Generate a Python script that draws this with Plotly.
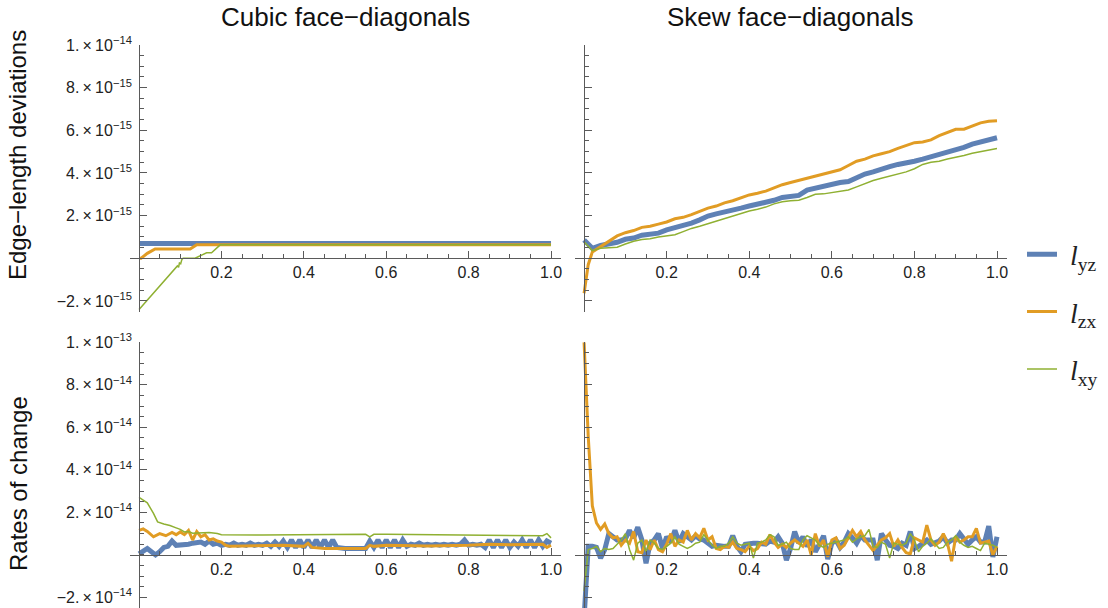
import plotly.graph_objects as go

E15 = 1e-15
E14 = 1e-14

# ---------------- data ----------------
# Top-left: Cubic face-diagonals, edge-length deviations (units 1e-15)
tl_yz_x = [0.0, 0.5, 1.0]
tl_yz = [0.69, 0.69, 0.69]
tl_zx_x = [0.0, 0.005, 0.02, 0.039, 0.124, 0.14, 1.0]
tl_zx = [0.0, 0.0, 0.23, 0.44, 0.44, 0.64, 0.64]
tl_xy_x = [0.0, 0.09, 0.093, 0.096, 0.098, 0.101, 0.104, 0.107, 0.136, 0.164, 0.176, 0.197, 1.0]
tl_xy = [-2.4, -0.45, -0.36, -0.42, -0.22, -0.26, -0.05, 0.0, 0.0, 0.26, 0.26, 0.63, 0.63]

# Top-right: Skew face-diagonals, edge-length deviations (units 1e-15)
tr_x = [round(i * 0.02, 2) for i in range(51)]
tr_yz = [0.86, 0.47, 0.6, 0.68, 0.75, 0.89, 0.95, 1.08, 1.12, 1.18, 1.33, 1.42, 1.55, 1.65, 1.8,
         1.98, 2.08, 2.15, 2.25, 2.35, 2.45, 2.52, 2.62, 2.72, 2.85, 2.92, 2.95, 3.2, 3.3, 3.35,
         3.45, 3.55, 3.6, 3.8, 3.95, 4.05, 4.2, 4.3, 4.4, 4.45, 4.55, 4.65, 4.75, 4.85, 4.95,
         5.05, 5.2, 5.35, 5.45, 5.6, 5.65]
tr_zx_x = [0.0, 0.01] + tr_x[1:]
tr_zx = [-1.64, -0.3, 0.3, 0.55, 0.82, 1.05, 1.2, 1.3, 1.45, 1.5, 1.6, 1.7, 1.85, 1.92, 2.05, 2.2,
         2.35, 2.45, 2.6, 2.7, 2.85, 2.97, 3.05, 3.15, 3.3, 3.45, 3.55, 3.65, 3.75, 3.85, 3.92,
         4.02, 4.15, 4.35, 4.55, 4.65, 4.8, 4.9, 5.0, 5.15, 5.3, 5.42, 5.45, 5.55, 5.75, 5.9,
         6.05, 6.05, 6.2, 6.35, 6.42, 6.45]
tr_xy = [0.78, 0.36, 0.47, 0.5, 0.52, 0.67, 0.8, 0.88, 0.92, 1.0, 1.05, 1.1, 1.25, 1.4, 1.5,
         1.62, 1.75, 1.88, 1.98, 2.12, 2.22, 2.3, 2.4, 2.55, 2.65, 2.7, 2.72, 2.85, 3.0, 3.02,
         3.08, 3.12, 3.2, 3.35, 3.5, 3.65, 3.75, 3.85, 3.95, 4.05, 4.2, 4.4, 4.5, 4.55, 4.65,
         4.72, 4.82, 4.92, 5.0, 5.07, 5.15]

# Bottom-left: Cubic face-diagonals, rates of change (units 1e-14)
grid01 = [round(i * 0.01, 2) for i in range(101)]
bl_yz = [0.05, 0.15, 0.3, 0.15, 0.0, 0.15, 0.35, 0.4, 0.65, 0.45,
         0.45, 0.5, 0.5, 0.55, 0.55, 0.6, 0.5, 0.65, 0.5, 0.55,
         0.45, 0.5, 0.45, 0.55, 0.45, 0.5, 0.45, 0.55, 0.45, 0.5,
         0.45, 0.55, 0.4, 0.6, 0.4, 0.65, 0.35, 0.7, 0.35, 0.7,
         0.35, 0.7, 0.35, 0.7, 0.35, 0.7, 0.35, 0.7, 0.35, 0.3,
         0.3, 0.3, 0.3, 0.3, 0.3, 0.3, 0.65, 0.35, 0.7, 0.35,
         0.7, 0.35, 0.7, 0.35, 0.7, 0.4, 0.5, 0.45, 0.55, 0.45,
         0.5, 0.45, 0.5, 0.45, 0.5, 0.45, 0.5, 0.45, 0.5, 0.7,
         0.45, 0.5, 0.45, 0.5, 0.35, 0.7, 0.35, 0.7, 0.35, 0.7,
         0.35, 0.6, 0.4, 0.7, 0.35, 0.7, 0.35, 0.7, 0.4, 0.65, 0.55]
bl_zx_x = [0.0, 0.01, 0.02, 0.035, 0.05, 0.065, 0.08, 0.09, 0.1, 0.11, 0.12, 0.13, 0.14, 0.15,
           0.16, 0.17, 0.18, 0.19, 0.2, 0.21, 0.22, 0.3, 0.35, 0.4, 0.41, 0.42, 0.45, 0.5, 0.55,
           0.56, 0.57, 0.6, 0.7, 0.8, 0.85, 0.9, 0.95, 0.98, 0.99, 1.0]
bl_zx = [1.15, 1.22, 1.1, 0.85, 1.0, 0.9, 1.05, 0.95, 1.08, 0.95, 1.15, 0.7, 1.1, 0.85, 0.95,
         0.7, 0.75, 0.65, 0.6, 0.45, 0.4, 0.45, 0.45, 0.4, 0.55, 0.35, 0.3, 0.3, 0.3, 0.45,
         0.4, 0.45, 0.42, 0.45, 0.5, 0.47, 0.5, 0.5, 0.35, 0.45]
bl_xy_x = [0.0, 0.02, 0.035, 0.045, 0.06, 0.075, 0.09, 0.1, 0.11, 0.12, 0.13, 0.15, 0.17, 0.19,
           0.2, 0.3, 0.4, 0.5, 0.55, 0.56, 0.57, 0.6, 0.7, 0.8, 0.85, 0.9, 0.98, 0.99, 1.0]
bl_xy = [2.7, 2.45, 1.95, 1.55, 1.45, 1.38, 1.27, 1.2, 1.08, 1.1, 1.02, 1.05, 1.05, 1.0, 0.95,
         0.93, 0.95, 0.97, 0.97, 0.85, 0.97, 0.97, 0.95, 0.95, 0.93, 0.9, 0.9, 1.0, 0.8]

# Bottom-right: Skew face-diagonals, rates of change (units 1e-14)
br_yz = [-3.0, 0.4, 0.4, 0.35, -0.15, 0.25, 1.0, 0.85, 0.7, 0.7,
         0.75, 1.15, 0.8, 1.3, 0.7, -0.4, 0.55, 0.7, 1.0, 0.3,
         0.85, 0.6, 1.15, 0.6, 1.0, 0.85, 0.7, 0.9, 0.75, 0.7,
         0.55, 0.4, 0.45, 0.4, 0.4, 0.4, 0.9, 0.4, 0.15, 0.5,
         0.55, 0.55, 0.55, 0.5, 0.5, 0.65, 0.6, 0.85, 0.55, -0.25,
         0.3, 1.1, 0.55, 0.85, 0.4, 0.7, 0.15, 0.5, 0.9, -0.2,
         0.55, 0.7, 0.35, 0.6, 1.0, 0.8, 0.55, 0.9, 0.7, 0.7,
         0.7, -0.25, 1.0, 0.7, 0.45, 0.4, 0.3, 0.55, 0.45, 1.1,
         0.3, 0.4, 0.55, 0.7, 0.5, 0.6, 0.65, 0.85, 0.55, 0.7,
         0.7, 1.0, 0.7, 0.5, 0.7, 0.85, 0.6, 0.6, 1.35, -0.1, 0.85]
br_zx = [10.0, 5.6, 2.3, 1.5, 1.2, 1.45, 1.0, 0.8, 0.85, 0.45,
         0.7, 0.55, 1.1, 0.15, 0.1, 0.7, 0.25, 0.7, 0.25, 0.15,
         0.5, 1.0, 0.4, 0.7, 0.6, 1.15, 0.7, 1.0, 0.8, 1.25,
         0.7, 0.85, 0.3, 0.25, 0.4, 0.35, 0.6, 0.3, 0.25, 0.15,
         0.4, 0.2, 0.3, 0.6, 0.5, 0.95, 0.6, 0.35, 0.5, 0.35,
         0.55, 0.7, 0.55, 0.4, 0.7, 0.0, 1.0, 0.4, 0.7, -0.1,
         0.7, 0.8, 0.3, 0.45, 0.8, 1.15, 0.85, 1.1, 0.7, 0.45,
         0.2, 0.45, 0.7, 0.8, 1.0, 0.4, 0.7, 0.35, 0.1, 0.05,
         0.8, 0.7, 0.6, 1.4, 0.7, 0.45, 0.6, 1.0, 0.55, -0.3,
         0.85, 0.6, 0.7, 0.85, 0.85, 1.25, 0.55, 0.6, 0.65, 0.0, 0.4]
br_xy = [-1.7, 0.25, 0.3, 0.4, 0.15, 0.3, 0.25, 0.3, 0.5, 0.7,
         1.0, 0.25, -0.25, 0.55, 0.7, 0.15, 0.7, 0.55, 0.3, 0.25,
         0.4, 0.55, 0.85, 0.5, 0.4, 0.3, 0.4, 0.55, 0.6, 0.95,
         0.7, 0.45, 0.3, 0.4, 0.4, 0.55, 0.85, 0.55, 0.45, 0.5,
         0.55, -0.15, 0.55, 0.6, 0.7, 0.95, 0.85, 0.45, 0.5, 0.6,
         0.3, 0.25, 0.25, 0.7, 0.9, 0.8, 0.7, 0.45, 0.35, 0.5,
         0.55, 0.6, 0.65, 0.7, 0.85, 0.6, 0.75, 0.85, 0.9, 1.2,
         0.4, 0.35, 0.6, 0.5, -0.15, 0.55, 0.5, 0.45, 0.55, 1.0,
         0.7, 0.15, 0.4, 0.55, 0.75, 0.55, 0.3, 0.35, 0.6, 0.7,
         0.9, 0.6, 0.45, 0.35, 0.4, 0.3, 0.2, 0.55, 0.5, 0.45, 0.35]

x_tickvals = [0.2, 0.4, 0.6, 0.8, 1.0]
x_ticktext = ["0.2", "0.4", "0.6", "0.8", "1.0"]
top_tickvals = [-2e-15, 2e-15, 4e-15, 6e-15, 8e-15, 1e-14]
top_ticktext = ["−2.\u2009×\u200910<sup>−15</sup>", "2.\u2009×\u200910<sup>−15</sup>",
                "4.\u2009×\u200910<sup>−15</sup>", "6.\u2009×\u200910<sup>−15</sup>",
                "8.\u2009×\u200910<sup>−15</sup>", "1.\u2009×\u200910<sup>−14</sup>"]
bot_tickvals = [-2e-14, 2e-14, 4e-14, 6e-14, 8e-14, 1e-13]
bot_ticktext = ["−2.\u2009×\u200910<sup>−14</sup>", "2.\u2009×\u200910<sup>−14</sup>",
                "4.\u2009×\u200910<sup>−14</sup>", "6.\u2009×\u200910<sup>−14</sup>",
                "8.\u2009×\u200910<sup>−14</sup>", "1.\u2009×\u200910<sup>−13</sup>"]

col_titles = ["Cubic face−diagonals", "Skew face−diagonals"]
row_titles = ["Edge−length deviations", "Rates of change"]
names = ["\u2009\u200a<i>l</i><sub>yz</sub>", "\u2009\u200a<i>l</i><sub>zx</sub>",
         "\u2009\u200a<i>l</i><sub>xy</sub>"]

# ---------------- styling ----------------
BLUE = "#5E81B5"
ORANGE = "#E19C24"
GREEN = "#8FB032"
WIDTHS = [5, 3, 1.5]
COLORS = [BLUE, ORANGE, GREEN]
AX = "#5a5a5a"
FONT = "Liberation Sans, Arial, sans-serif"

W, H = 1108, 608
XR = [-0.022, 1.023]
TOPR = [-2.5e-15, 1e-14]
BOTR = [-2.5e-14, 1e-13]


def px_x(v):
    return v / W


def px_y(v):
    return 1 - v / H


xdom_left = [px_x(130), px_x(560.5)]
xdom_right = [px_x(575), px_x(1006.5)]
ydom_top = [px_y(311.6), px_y(45)]
ydom_bot = [0.0, px_y(342.3)]


def frac(r, v):
    return (v - r[0]) / (r[1] - r[0])


def pos(dom, r, v):
    return dom[0] + frac(r, v) * (dom[1] - dom[0])


fig = go.Figure()

panels = [
    ("x", "y", [(tl_yz_x, tl_yz), (tl_zx_x, tl_zx), (tl_xy_x, tl_xy)], E15, True),
    ("x2", "y2", [(tr_x, tr_yz), (tr_zx_x, tr_zx), (tr_x, tr_xy)], E15, False),
    ("x3", "y3", [(grid01, bl_yz), (bl_zx_x, bl_zx), (bl_xy_x, bl_xy)], E14, False),
    ("x4", "y4", [(grid01, br_yz), (grid01, br_zx), (grid01, br_xy)], E14, False),
]

for xa, ya, series, unit, show in panels:
    for i, (xs, ys) in enumerate(series):
        fig.add_trace(go.Scatter(
            x=xs, y=[v * unit for v in ys], mode="lines", xaxis=xa, yaxis=ya,
            line=dict(color=COLORS[i], width=WIDTHS[i]),
            name=names[i], showlegend=show, legendgroup=f"g{i}",
            hoverinfo="skip",
        ))


def xax(dom, ydom, yr):
    return dict(
        domain=dom, range=XR, anchor="free", position=pos(ydom, yr, 0.0),
        automargin=False,
        showline=True, linecolor=AX, linewidth=1, showgrid=False, zeroline=False,
        tickmode="array", tickvals=x_tickvals, ticktext=x_ticktext,
        ticks="inside", ticklen=7, tickwidth=1, tickcolor=AX,
        tickfont=dict(family=FONT, size=16, color="#222"),
        minor=dict(ticks="inside", ticklen=4, tickwidth=1, tickcolor=AX, dtick=0.05, tick0=0),
        fixedrange=True,
    )


def yax(dom, xdom, yr, tv, tt, labels, mdt):
    return dict(
        domain=dom, range=yr, anchor="free", position=pos(xdom, XR, 0.0),
        automargin=False,
        showline=True, linecolor=AX, linewidth=1, showgrid=False, zeroline=False,
        tickmode="array", tickvals=tv, ticktext=tt, showticklabels=labels,
        ticks="inside", ticklen=7, tickwidth=1, tickcolor=AX,
        ticklabelstandoff=4,
        tickfont=dict(family=FONT, size=16, color="#222"),
        minor=dict(ticks="inside", ticklen=4, tickwidth=1, tickcolor=AX, dtick=mdt, tick0=0),
        fixedrange=True,
    )


fig.update_layout(
    width=W, height=H,
    margin=dict(l=0, r=0, t=0, b=0, autoexpand=False),
    paper_bgcolor="white", plot_bgcolor="white",
    xaxis=xax(xdom_left, ydom_top, TOPR),
    xaxis2=xax(xdom_right, ydom_top, TOPR),
    xaxis3=xax(xdom_left, ydom_bot, BOTR),
    xaxis4=xax(xdom_right, ydom_bot, BOTR),
    yaxis=yax(ydom_top, xdom_left, TOPR, top_tickvals, top_ticktext, True, 5e-16),
    yaxis2=yax(ydom_top, xdom_right, TOPR, top_tickvals, top_ticktext, False, 5e-16),
    yaxis3=yax(ydom_bot, xdom_left, BOTR, bot_tickvals, bot_ticktext, True, 5e-15),
    yaxis4=yax(ydom_bot, xdom_right, BOTR, bot_tickvals, bot_ticktext, False, 5e-15),
    legend=dict(x=px_x(1022), y=px_y(312), xanchor="left", yanchor="middle",
                font=dict(family="Liberation Serif, Times New Roman, serif", size=28, color="#222"),
                tracegroupgap=18, bgcolor="rgba(0,0,0,0)", itemwidth=30),
    showlegend=True,
)

annos = [
    dict(text=col_titles[0], x=px_x(345), y=px_y(17), showarrow=False,
         xref="paper", yref="paper", xanchor="center", yanchor="middle",
         font=dict(family=FONT, size=26, color="#111")),
    dict(text=col_titles[1], x=px_x(790), y=px_y(17), showarrow=False,
         xref="paper", yref="paper", xanchor="center", yanchor="middle",
         font=dict(family=FONT, size=26, color="#111")),
    dict(text=row_titles[0], x=px_x(18), y=px_y(155), showarrow=False, textangle=-90,
         xref="paper", yref="paper", xanchor="center", yanchor="middle",
         font=dict(family=FONT, size=24, color="#111")),
    dict(text=row_titles[1], x=px_x(18), y=px_y(484), showarrow=False, textangle=-90,
         xref="paper", yref="paper", xanchor="center", yanchor="middle",
         font=dict(family=FONT, size=24, color="#111")),
]
fig.update_layout(annotations=annos)

# remove the browser's default 8px page margin so the figure fills the window exactly
fig.write_html("out.html", config={"displayModeBar": False},
               post_script="document.body.style.margin='0px';")
